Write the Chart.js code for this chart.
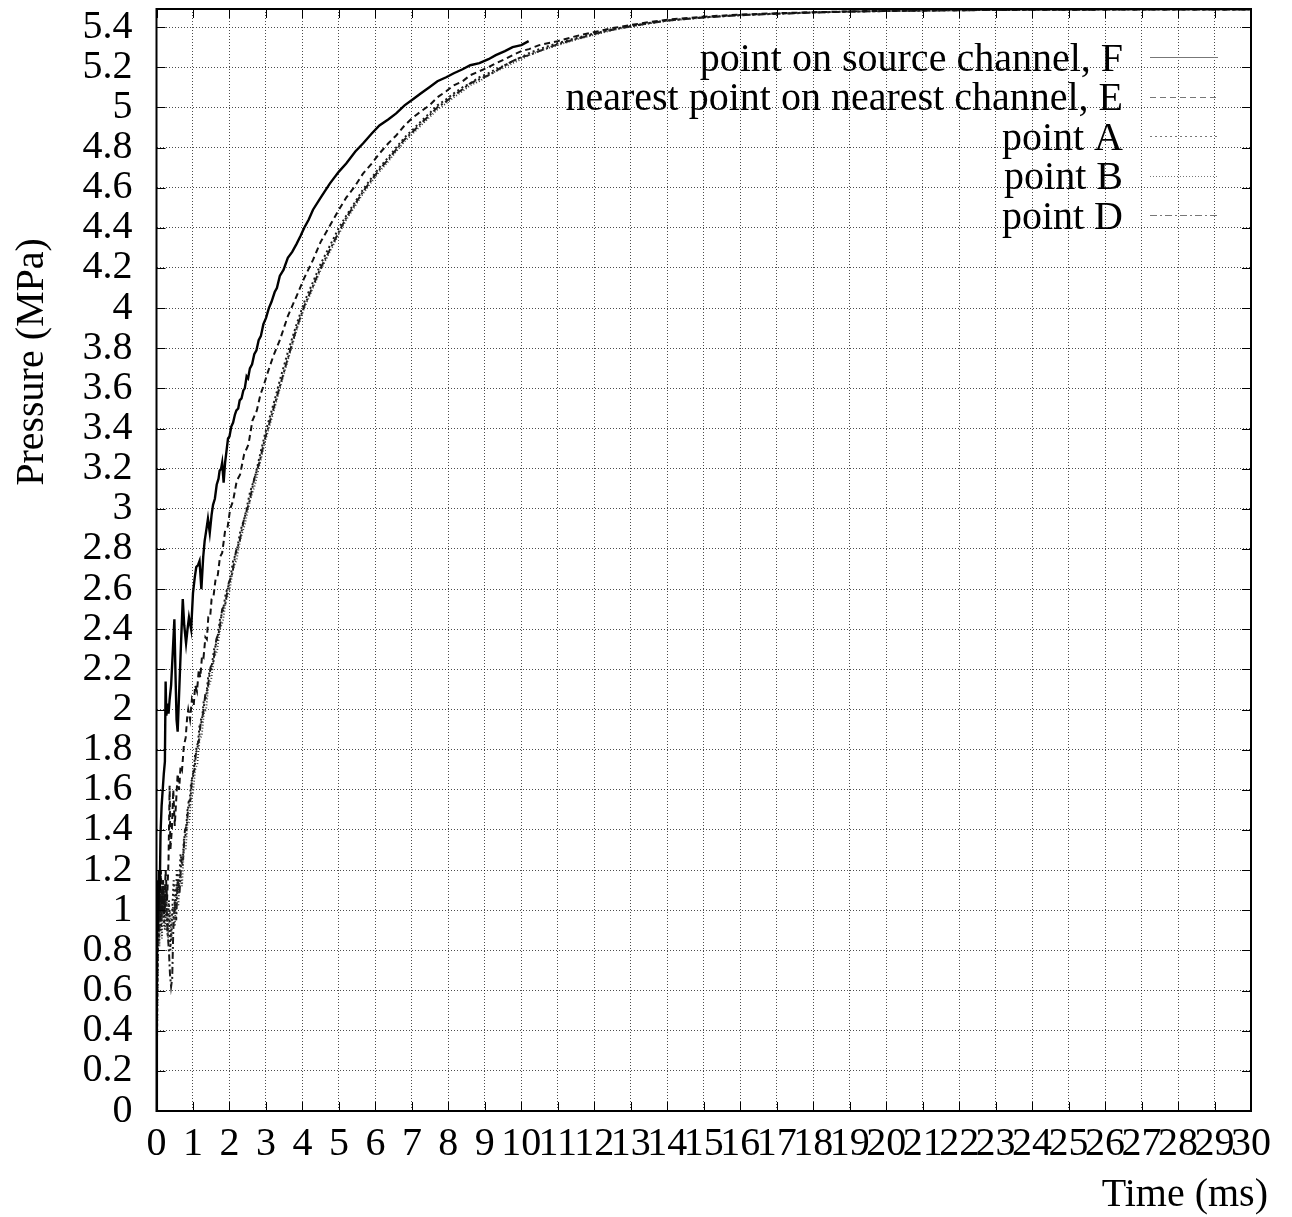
<!DOCTYPE html>
<html>
<head>
<meta charset="utf-8">
<title>Pressure history</title>
<script src="https://cdn.jsdelivr.net/npm/chart.js@4.4.1/dist/chart.umd.min.js"></script>
<style>
  html, body { margin: 0; padding: 0; background: #fff; }
  canvas { display: block; }
</style>
</head>
<body>
<canvas id="pressureChart" width="1292" height="1217"></canvas>
<script>
// [time (ms), pressure (MPa)] samples for each monitoring point

const pointF = [
  [0, 0], [0.01, 0.5], [0.02, 0.9], [0.03, 1.15], [0.05, 1.0], [0.07, 1.2], [0.09, 1.1],
  [0.11, 1.38], [0.14, 1.52], [0.17, 1.6], [0.2, 1.68], [0.23, 1.74], [0.25, 2.14],
  [0.27, 1.97], [0.3, 2.03], [0.33, 1.98], [0.36, 2.05], [0.4, 2.12], [0.45, 2.3],
  [0.49, 2.45], [0.52, 2.18], [0.55, 1.95], [0.58, 1.89], [0.62, 2.08], [0.67, 2.32],
  [0.72, 2.55], [0.76, 2.42], [0.81, 2.33], [0.85, 2.4], [0.89, 2.46], [0.95, 2.4],
  [1.0, 2.58], [1.05, 2.66], [1.09, 2.71], [1.14, 2.72], [1.18, 2.74], [1.23, 2.6],
  [1.28, 2.76], [1.32, 2.84], [1.37, 2.9], [1.41, 2.95], [1.46, 2.88], [1.51, 2.97],
  [1.55, 3.02], [1.6, 3.05], [1.65, 3.12], [1.7, 3.15], [1.73, 3.19], [1.77, 3.2],
  [1.8, 3.23], [1.84, 3.13], [1.88, 3.23], [1.92, 3.29], [1.96, 3.35], [2.0, 3.36],
  [2.05, 3.41], [2.1, 3.43], [2.15, 3.47], [2.19, 3.49], [2.24, 3.5], [2.28, 3.54],
  [2.33, 3.55], [2.38, 3.59], [2.42, 3.6], [2.47, 3.66], [2.51, 3.65], [2.56, 3.7],
  [2.62, 3.72], [2.68, 3.77], [2.74, 3.79], [2.8, 3.84], [2.86, 3.86], [2.93, 3.92],
  [3.0, 3.95], [3.08, 4.0], [3.15, 4.03], [3.24, 4.08], [3.3, 4.1], [3.38, 4.16],
  [3.48, 4.19], [3.6, 4.25], [3.72, 4.28], [3.84, 4.32], [3.95, 4.36], [4.05, 4.4],
  [4.17, 4.44], [4.29, 4.49], [4.5, 4.55], [4.75, 4.62], [5.0, 4.68], [5.2, 4.72],
  [5.45, 4.78], [5.66, 4.82], [5.9, 4.87], [6.11, 4.91], [6.35, 4.94], [6.57, 4.97],
  [6.8, 5.01], [7.03, 5.04], [7.25, 5.07], [7.48, 5.1], [7.7, 5.13], [7.94, 5.15],
  [8.15, 5.17], [8.39, 5.19], [8.6, 5.21], [8.85, 5.22], [9.1, 5.24], [9.3, 5.26],
  [9.55, 5.28], [9.76, 5.3], [10.0, 5.31], [10.2, 5.33]
];

const pointE = [
  [0, 0], [0.01, 0.35], [0.02, 0.8], [0.03, 1.1], [0.05, 0.9], [0.07, 1.15], [0.09, 0.95],
  [0.12, 1.2], [0.15, 1.0], [0.18, 1.15], [0.21, 0.98], [0.25, 1.2], [0.29, 1.05],
  [0.33, 1.25], [0.36, 1.62], [0.38, 1.3], [0.42, 1.4], [0.46, 1.6], [0.5, 1.42],
  [0.54, 1.55], [0.58, 1.68], [0.62, 1.6], [0.66, 1.72], [0.7, 1.7], [0.75, 1.82],
  [0.8, 1.86], [0.84, 1.96], [0.87, 2.0], [0.92, 1.95], [0.97, 2.05], [1.02, 2.02],
  [1.06, 2.12], [1.11, 2.09], [1.16, 2.2], [1.2, 2.16], [1.25, 2.27], [1.29, 2.26],
  [1.34, 2.36], [1.38, 2.35], [1.42, 2.46], [1.47, 2.46], [1.51, 2.55], [1.56, 2.56],
  [1.62, 2.65], [1.68, 2.67], [1.74, 2.76], [1.8, 2.78], [1.88, 2.89], [1.95, 2.91],
  [2.02, 3.0], [2.1, 3.04], [2.2, 3.14], [2.29, 3.17], [2.4, 3.27], [2.52, 3.32],
  [2.63, 3.44], [2.75, 3.49], [2.85, 3.57], [2.93, 3.61], [3.05, 3.68], [3.2, 3.76],
  [3.38, 3.84], [3.6, 3.96], [3.84, 4.06], [4.05, 4.15], [4.29, 4.24], [4.5, 4.33],
  [4.75, 4.41], [5.0, 4.49], [5.2, 4.55], [5.45, 4.61], [5.66, 4.67], [5.9, 4.72],
  [6.11, 4.77], [6.35, 4.82], [6.57, 4.86], [6.8, 4.91], [7.03, 4.95], [7.25, 4.98],
  [7.48, 5.01], [7.7, 5.05], [7.94, 5.08], [8.15, 5.11], [8.39, 5.13], [8.6, 5.16],
  [8.85, 5.18], [9.1, 5.2], [9.3, 5.22], [9.55, 5.24], [9.76, 5.26], [10.0, 5.28],
  [10.21, 5.29], [10.49, 5.31], [11, 5.33], [11.5, 5.355], [12, 5.375], [12.5, 5.395],
  [13, 5.41], [13.5, 5.425], [14, 5.437], [15, 5.452], [16, 5.462], [17, 5.469],
  [18, 5.474], [19, 5.478], [20, 5.481], [22, 5.484], [24, 5.486], [26, 5.487],
  [28, 5.488], [30, 5.488]
];

const pointA = [
  [0, 0], [0.01, 0.2], [0.02, 0.55], [0.03, 0.85], [0.05, 1.05], [0.07, 0.85], [0.1, 1.1],
  [0.13, 0.9], [0.17, 1.12], [0.21, 0.92], [0.25, 1.1], [0.3, 0.88], [0.34, 1.05],
  [0.38, 0.8], [0.42, 0.95], [0.47, 1.15], [0.52, 1.0], [0.56, 1.2], [0.61, 1.1],
  [0.66, 1.28], [0.71, 1.22], [0.75, 1.35], [0.8, 1.38], [0.85, 1.5], [0.9, 1.52],
  [0.95, 1.64], [1.0, 1.66], [1.06, 1.78], [1.12, 1.8], [1.18, 1.92], [1.24, 1.94],
  [1.3, 2.05], [1.36, 2.06], [1.42, 2.17], [1.5, 2.2], [1.58, 2.3], [1.66, 2.34],
  [1.74, 2.45], [1.82, 2.49], [1.9, 2.58], [2.0, 2.63], [2.1, 2.74], [2.2, 2.79],
  [2.3, 2.89], [2.42, 2.96], [2.56, 3.08], [2.7, 3.16], [2.84, 3.27], [2.97, 3.37],
  [3.11, 3.46], [3.25, 3.55], [3.38, 3.64], [3.6, 3.78], [3.84, 3.92], [4.05, 4.03],
  [4.29, 4.13], [4.5, 4.22], [4.75, 4.31], [5.0, 4.4], [5.2, 4.46], [5.45, 4.53],
  [5.66, 4.59], [5.9, 4.65], [6.11, 4.7], [6.35, 4.75], [6.57, 4.8], [6.8, 4.85],
  [7.03, 4.89], [7.25, 4.93], [7.48, 4.97], [7.7, 5.01], [7.94, 5.04], [8.15, 5.07],
  [8.39, 5.1], [8.6, 5.12], [8.85, 5.15], [9.1, 5.17], [9.3, 5.19], [9.55, 5.21],
  [9.76, 5.23], [10.0, 5.25], [10.21, 5.27], [10.49, 5.29], [11, 5.32], [11.5, 5.345],
  [12, 5.368], [12.5, 5.39], [13, 5.405], [13.5, 5.42], [14, 5.433], [15, 5.449],
  [16, 5.46], [17, 5.467], [18, 5.473], [19, 5.477], [20, 5.48], [22, 5.484],
  [24, 5.486], [26, 5.487], [28, 5.488], [30, 5.488]
];

const pointB = [
  [0, 0], [0.01, 0.15], [0.02, 0.45], [0.04, 0.8], [0.06, 1.0], [0.08, 0.82], [0.11, 1.05],
  [0.15, 0.86], [0.19, 1.08], [0.23, 0.9], [0.28, 1.06], [0.32, 0.86], [0.37, 1.0],
  [0.41, 0.85], [0.45, 1.02], [0.5, 0.92], [0.55, 1.12], [0.6, 1.02], [0.65, 1.2],
  [0.7, 1.12], [0.75, 1.3], [0.8, 1.3], [0.85, 1.43], [0.9, 1.44], [0.95, 1.56],
  [1.0, 1.58], [1.06, 1.7], [1.12, 1.73], [1.18, 1.85], [1.24, 1.87], [1.3, 1.98],
  [1.36, 2.0], [1.42, 2.11], [1.5, 2.15], [1.58, 2.26], [1.66, 2.29], [1.74, 2.4],
  [1.82, 2.44], [1.9, 2.54], [2.0, 2.59], [2.1, 2.7], [2.2, 2.75], [2.3, 2.85],
  [2.42, 2.92], [2.56, 3.04], [2.7, 3.12], [2.84, 3.23], [2.97, 3.33], [3.11, 3.42],
  [3.25, 3.51], [3.38, 3.6], [3.6, 3.74], [3.84, 3.89], [4.05, 4.0], [4.29, 4.1],
  [4.5, 4.19], [4.75, 4.28], [5.0, 4.37], [5.2, 4.44], [5.45, 4.51], [5.66, 4.57],
  [5.9, 4.63], [6.11, 4.68], [6.35, 4.73], [6.57, 4.78], [6.8, 4.83], [7.03, 4.87],
  [7.25, 4.91], [7.48, 4.95], [7.7, 4.99], [7.94, 5.02], [8.15, 5.05], [8.39, 5.08],
  [8.6, 5.11], [8.85, 5.13], [9.1, 5.16], [9.3, 5.18], [9.55, 5.2], [9.76, 5.22],
  [10.0, 5.24], [10.21, 5.26], [10.49, 5.28], [11, 5.31], [11.5, 5.338], [12, 5.362],
  [12.5, 5.385], [13, 5.402], [13.5, 5.418], [14, 5.431], [15, 5.447], [16, 5.459],
  [17, 5.466], [18, 5.472], [19, 5.477], [20, 5.48], [22, 5.484], [24, 5.486],
  [26, 5.487], [28, 5.488], [30, 5.488]
];

const pointD = [
  [0, 0], [0.01, 0.25], [0.02, 0.6], [0.04, 0.95], [0.06, 1.1], [0.08, 0.9], [0.11, 1.12],
  [0.14, 0.95], [0.18, 1.15], [0.22, 0.98], [0.26, 1.12], [0.3, 0.9], [0.34, 0.8],
  [0.37, 0.68], [0.4, 0.62], [0.43, 0.66], [0.46, 0.9], [0.5, 1.05], [0.54, 0.95],
  [0.58, 1.15], [0.63, 1.08], [0.68, 1.25], [0.73, 1.26], [0.78, 1.4], [0.83, 1.42],
  [0.88, 1.54], [0.93, 1.55], [0.98, 1.67], [1.04, 1.7], [1.1, 1.82], [1.16, 1.84],
  [1.22, 1.95], [1.28, 1.98], [1.34, 2.08], [1.4, 2.1], [1.48, 2.21], [1.56, 2.24],
  [1.64, 2.35], [1.72, 2.39], [1.8, 2.5], [1.88, 2.52], [1.98, 2.63], [2.08, 2.68],
  [2.18, 2.79], [2.28, 2.84], [2.4, 2.95], [2.54, 3.03], [2.68, 3.15], [2.82, 3.23],
  [2.96, 3.34], [3.1, 3.43], [3.24, 3.52], [3.38, 3.61], [3.6, 3.75], [3.84, 3.9],
  [4.05, 4.01], [4.29, 4.11], [4.5, 4.2], [4.75, 4.29], [5.0, 4.38], [5.2, 4.45],
  [5.45, 4.52], [5.66, 4.58], [5.9, 4.64], [6.11, 4.69], [6.35, 4.74], [6.57, 4.79],
  [6.8, 4.84], [7.03, 4.88], [7.25, 4.92], [7.48, 4.96], [7.7, 5.0], [7.94, 5.03],
  [8.15, 5.06], [8.39, 5.09], [8.6, 5.12], [8.85, 5.14], [9.1, 5.16], [9.3, 5.18],
  [9.55, 5.21], [9.76, 5.23], [10.0, 5.25], [10.21, 5.26], [10.49, 5.28], [11, 5.315],
  [11.5, 5.34], [12, 5.365], [12.5, 5.387], [13, 5.404], [13.5, 5.419], [14, 5.432],
  [15, 5.448], [16, 5.459], [17, 5.466], [18, 5.472], [19, 5.477], [20, 5.48],
  [22, 5.484], [24, 5.486], [26, 5.487], [28, 5.488], [30, 5.488]
];

const seriesLabels = [
  "point on source channel, F",
  "nearest point on nearest channel, E",
  "point A",
  "point B",
  "point D",
];

const timeRange = [0, 30];
const pressureRange = [0, 5.49];

const FONT = "'Liberation Serif', 'Times New Roman', serif";
const FONT_SIZE = 40;

const toXY = (rows) => rows.map(([x, y]) => ({ x, y }));

// frame, inward tick marks, key and axis titles drawn the gnuplot way
const framePlugin = {
  id: "frame",
  afterDraw(chart) {
    const { ctx, chartArea: a, scales } = chart;
    const tick = 9;
    ctx.save();
    ctx.strokeStyle = "#000";
    ctx.lineWidth = 1;
    ctx.beginPath();
    scales.x.ticks.forEach((t) => {
      const px = Math.round(scales.x.getPixelForValue(t.value)) + 0.5;
      ctx.moveTo(px, a.bottom);
      ctx.lineTo(px, a.bottom - tick);
      ctx.moveTo(px, a.top);
      ctx.lineTo(px, a.top + tick);
    });
    scales.y.ticks.forEach((t) => {
      const py = Math.round(scales.y.getPixelForValue(t.value)) + 0.5;
      ctx.moveTo(a.left, py);
      ctx.lineTo(a.left + tick, py);
      ctx.moveTo(a.right, py);
      ctx.lineTo(a.right - tick, py);
    });
    ctx.stroke();

    ctx.lineWidth = 2;
    ctx.strokeRect(a.left, a.top, a.right - a.left, a.bottom - a.top);

    // key, top right inside the plot
    ctx.font = FONT_SIZE + "px " + FONT;
    ctx.textBaseline = "middle";
    ctx.textAlign = "right";
    chart.data.datasets.forEach((ds, i) => {
      const y = 60 + i * 39.5;
      ctx.fillStyle = "#000";
      ctx.fillText(ds.label, 1123, y);
      ctx.save();
      ctx.strokeStyle = "#777";
      ctx.lineWidth = 1;
      ctx.setLineDash(ds.borderDash || []);
      ctx.beginPath();
      ctx.moveTo(1150, Math.round(y) - 2.5);
      ctx.lineTo(1218, Math.round(y) - 2.5);
      ctx.stroke();
      ctx.restore();
    });

    // axis titles
    ctx.fillStyle = "#000";
    ctx.textAlign = "right";
    ctx.fillText("Time (ms)", 1268, 1195);
    ctx.save();
    ctx.translate(32, 362);
    ctx.rotate(-Math.PI / 2);
    ctx.textAlign = "center";
    ctx.fillText("Pressure (MPa)", 0, 0);
    ctx.restore();
    ctx.restore();
  },
};

const gridStyle = { color: "rgba(0,0,0,0.7)", lineWidth: 1, drawTicks: false };

new Chart(document.getElementById("pressureChart"), {
  type: "line",
  data: {
    datasets: [
      { label: seriesLabels[0], data: toXY(pointF), borderColor: "#000", borderWidth: 2.4 },
      { label: seriesLabels[1], data: toXY(pointE), borderColor: "#111", borderWidth: 2, borderDash: [6, 4] },
      { label: seriesLabels[2], data: toXY(pointA), borderColor: "#1a1a1a", borderWidth: 2, borderDash: [2, 3] },
      { label: seriesLabels[3], data: toXY(pointB), borderColor: "#333", borderWidth: 1.8, borderDash: [1, 2] },
      { label: seriesLabels[4], data: toXY(pointD), borderColor: "#1a1a1a", borderWidth: 2, borderDash: [7, 3, 2, 3] },
    ],
  },
  options: {
    responsive: false,
    animation: false,
    events: [],
    layout: { padding: { top: 9, right: 41, left: 0, bottom: 0 } },
    elements: { point: { radius: 0 }, line: { tension: 0, fill: false } },
    plugins: { legend: { display: false }, tooltip: { enabled: false } },
    scales: {
      x: {
        type: "linear",
        min: timeRange[0],
        max: timeRange[1],
        grid: gridStyle,
        border: { display: false, dash: [1, 2] },
        ticks: {
          stepSize: 1,
          autoSkip: false,
          minRotation: 0,
          maxRotation: 0,
          padding: 9,
          color: "#000",
          font: { family: FONT, size: FONT_SIZE },
        },
        afterFit(scale) {
          scale.height = 106;
          scale.paddingLeft = 0;
          scale.paddingRight = 0;
        },
      },
      y: {
        type: "linear",
        min: pressureRange[0],
        max: pressureRange[1],
        grid: gridStyle,
        border: { display: false, dash: [1, 2] },
        ticks: {
          stepSize: 0.2,
          includeBounds: false,
          autoSkip: false,
          padding: 24,
          color: "#000",
          font: { family: FONT, size: FONT_SIZE },
          callback: (v) => String(Math.round(v * 10) / 10),
        },
        afterFit(scale) {
          scale.width = 156.5;
          scale.paddingTop = 0;
          scale.paddingBottom = 0;
        },
      },
    },
  },
  plugins: [framePlugin],
});
</script>
</body>
</html>
